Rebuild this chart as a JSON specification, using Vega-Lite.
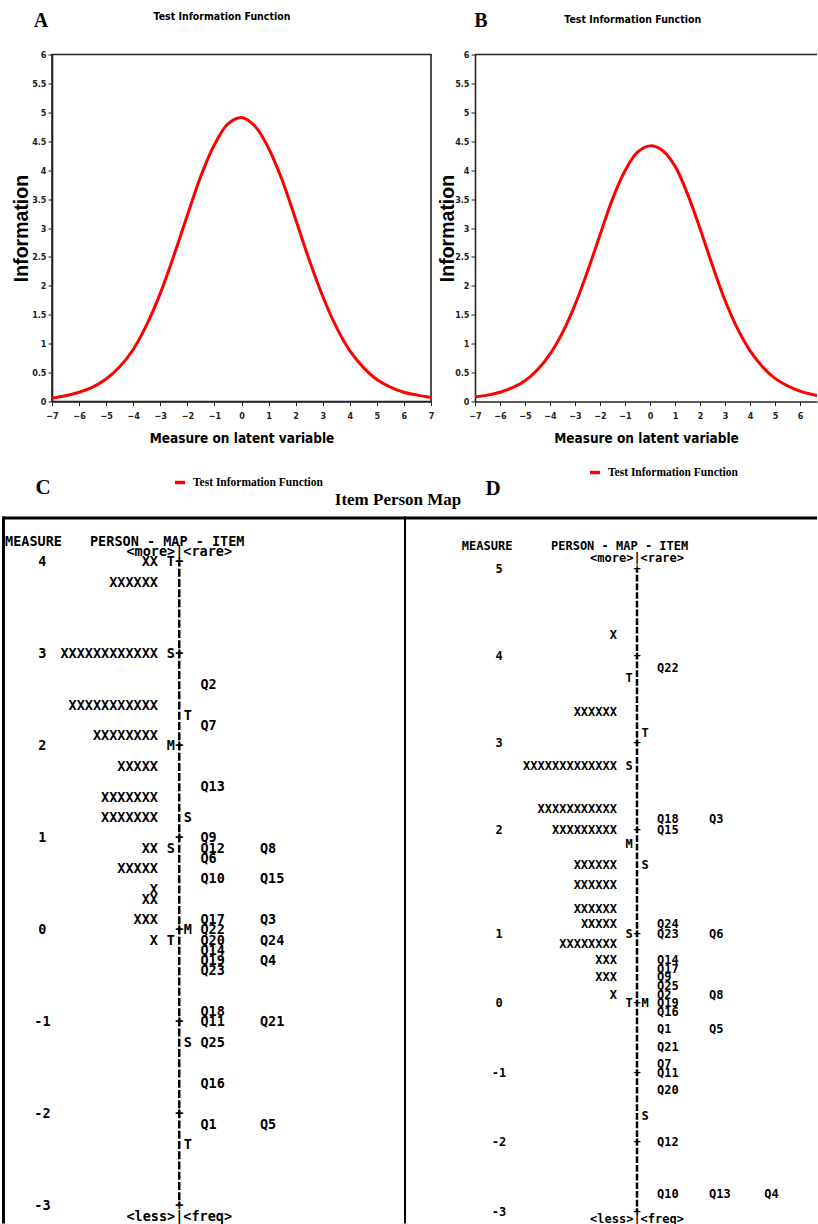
{
  "$schema": "https://vega.github.io/schema/vega-lite/v6.json",
  "background": "white",
  "padding": {"left": 1, "top": 9.5, "right": 0, "bottom": 0},
  "config": {
    "view": {"stroke": null},
    "axis": {"labelOverlap": false, "labelFlush": false, "labelBound": false, "grid": false,
      "labelFont": "Liberation Sans Narrow, DejaVu Sans Condensed, Liberation Sans, sans-serif", "labelFontSize": 9, "labelFontWeight": "bold", "labelColor": "#222",
      "tickSize": 4, "tickColor": "#222", "domainColor": "#222", "domainWidth": 1.6, "titleFontWeight": "bold", "titleColor": "#000"},
    "axisX": {"titleFont": "Liberation Sans Narrow, DejaVu Sans Condensed, Liberation Sans, sans-serif", "titleFontSize": 13.5, "titlePadding": 11, "labelPadding": 6},
    "axisY": {"titleFont": "Liberation Sans", "titleFontSize": 19.5, "labelPadding": 2}
  },
  "datasets": {
    "tifA": [
      {"theta": -7, "info": 0.06, "series": "Test Information Function"},
      {"theta": -6.5, "info": 0.10, "series": "Test Information Function"},
      {"theta": -6, "info": 0.16, "series": "Test Information Function"},
      {"theta": -5.5, "info": 0.25, "series": "Test Information Function"},
      {"theta": -5, "info": 0.39, "series": "Test Information Function"},
      {"theta": -4.5, "info": 0.60, "series": "Test Information Function"},
      {"theta": -4, "info": 0.90, "series": "Test Information Function"},
      {"theta": -3.5, "info": 1.33, "series": "Test Information Function"},
      {"theta": -3, "info": 1.87, "series": "Test Information Function"},
      {"theta": -2.5, "info": 2.52, "series": "Test Information Function"},
      {"theta": -2, "info": 3.22, "series": "Test Information Function"},
      {"theta": -1.5, "info": 3.90, "series": "Test Information Function"},
      {"theta": -1, "info": 4.44, "series": "Test Information Function"},
      {"theta": -0.5, "info": 4.80, "series": "Test Information Function"},
      {"theta": 0, "info": 4.91, "series": "Test Information Function"},
      {"theta": 0.5, "info": 4.76, "series": "Test Information Function"},
      {"theta": 1, "info": 4.38, "series": "Test Information Function"},
      {"theta": 1.5, "info": 3.83, "series": "Test Information Function"},
      {"theta": 2, "info": 3.15, "series": "Test Information Function"},
      {"theta": 2.5, "info": 2.45, "series": "Test Information Function"},
      {"theta": 3, "info": 1.82, "series": "Test Information Function"},
      {"theta": 3.5, "info": 1.29, "series": "Test Information Function"},
      {"theta": 4, "info": 0.88, "series": "Test Information Function"},
      {"theta": 4.5, "info": 0.59, "series": "Test Information Function"},
      {"theta": 5, "info": 0.38, "series": "Test Information Function"},
      {"theta": 5.5, "info": 0.25, "series": "Test Information Function"},
      {"theta": 6, "info": 0.16, "series": "Test Information Function"},
      {"theta": 6.5, "info": 0.11, "series": "Test Information Function"},
      {"theta": 7, "info": 0.07, "series": "Test Information Function"}
    ],
    "tifB": [
      {"theta": -7, "info": 0.08, "series": "Test Information Function"},
      {"theta": -6.5, "info": 0.11, "series": "Test Information Function"},
      {"theta": -6, "info": 0.16, "series": "Test Information Function"},
      {"theta": -5.5, "info": 0.24, "series": "Test Information Function"},
      {"theta": -5, "info": 0.36, "series": "Test Information Function"},
      {"theta": -4.5, "info": 0.55, "series": "Test Information Function"},
      {"theta": -4, "info": 0.82, "series": "Test Information Function"},
      {"theta": -3.5, "info": 1.19, "series": "Test Information Function"},
      {"theta": -3, "info": 1.67, "series": "Test Information Function"},
      {"theta": -2.5, "info": 2.25, "series": "Test Information Function"},
      {"theta": -2, "info": 2.88, "series": "Test Information Function"},
      {"theta": -1.5, "info": 3.50, "series": "Test Information Function"},
      {"theta": -1, "info": 3.99, "series": "Test Information Function"},
      {"theta": -0.5, "info": 4.31, "series": "Test Information Function"},
      {"theta": 0, "info": 4.42, "series": "Test Information Function"},
      {"theta": 0.5, "info": 4.34, "series": "Test Information Function"},
      {"theta": 1, "info": 4.07, "series": "Test Information Function"},
      {"theta": 1.5, "info": 3.59, "series": "Test Information Function"},
      {"theta": 2, "info": 2.99, "series": "Test Information Function"},
      {"theta": 2.5, "info": 2.35, "series": "Test Information Function"},
      {"theta": 3, "info": 1.75, "series": "Test Information Function"},
      {"theta": 3.5, "info": 1.26, "series": "Test Information Function"},
      {"theta": 4, "info": 0.88, "series": "Test Information Function"},
      {"theta": 4.5, "info": 0.60, "series": "Test Information Function"},
      {"theta": 5, "info": 0.40, "series": "Test Information Function"},
      {"theta": 5.5, "info": 0.27, "series": "Test Information Function"},
      {"theta": 6, "info": 0.18, "series": "Test Information Function"},
      {"theta": 6.5, "info": 0.12, "series": "Test Information Function"},
      {"theta": 7, "info": 0.08, "series": "Test Information Function"}
    ],
    "mapC": [
      {"line": -2, "col": 0, "text": "MEASURE", "kind": "hdr"},
      {"line": -2, "col": 10, "text": "PERSON - MAP - ITEM", "kind": "hdr"},
      {"line": -1, "col": 20.5, "text": "<more>|<rare>", "kind": "ends"},
      {"line": 0, "col": 4.4, "text": "4", "kind": "num"},
      {"line": 0, "col": 18, "text": "XX", "kind": "person"},
      {"line": 0, "col": 19.5, "text": "T", "kind": "mark"},
      {"line": 0, "col": 20.5, "text": "+", "kind": "axis"},
      {"line": 2, "col": 18, "text": "XXXXXX", "kind": "person"},
      {"line": 9, "col": 4.4, "text": "3", "kind": "num"},
      {"line": 9, "col": 18, "text": "XXXXXXXXXXXX", "kind": "person"},
      {"line": 9, "col": 19.5, "text": "S", "kind": "mark"},
      {"line": 9, "col": 20.5, "text": "+", "kind": "axis"},
      {"line": 12, "col": 23, "text": "Q2", "kind": "item"},
      {"line": 14, "col": 18, "text": "XXXXXXXXXXX", "kind": "person"},
      {"line": 15, "col": 21.5, "text": "T", "kind": "mark"},
      {"line": 16, "col": 23, "text": "Q7", "kind": "item"},
      {"line": 17, "col": 18, "text": "XXXXXXXX", "kind": "person"},
      {"line": 18, "col": 4.4, "text": "2", "kind": "num"},
      {"line": 18, "col": 19.5, "text": "M", "kind": "mark"},
      {"line": 18, "col": 20.5, "text": "+", "kind": "axis"},
      {"line": 20, "col": 18, "text": "XXXXX", "kind": "person"},
      {"line": 22, "col": 23, "text": "Q13", "kind": "item"},
      {"line": 23, "col": 18, "text": "XXXXXXX", "kind": "person"},
      {"line": 25, "col": 18, "text": "XXXXXXX", "kind": "person"},
      {"line": 25, "col": 21.5, "text": "S", "kind": "mark"},
      {"line": 27, "col": 4.4, "text": "1", "kind": "num"},
      {"line": 27, "col": 20.5, "text": "+", "kind": "axis"},
      {"line": 27, "col": 23, "text": "Q9", "kind": "item"},
      {"line": 28, "col": 18, "text": "XX", "kind": "person"},
      {"line": 28, "col": 19.5, "text": "S", "kind": "mark"},
      {"line": 28, "col": 23, "text": "Q12", "kind": "item"},
      {"line": 28, "col": 30, "text": "Q8", "kind": "item"},
      {"line": 29, "col": 23, "text": "Q6", "kind": "item"},
      {"line": 30, "col": 18, "text": "XXXXX", "kind": "person"},
      {"line": 31, "col": 23, "text": "Q10", "kind": "item"},
      {"line": 31, "col": 30, "text": "Q15", "kind": "item"},
      {"line": 32, "col": 18, "text": "X", "kind": "person"},
      {"line": 33, "col": 18, "text": "XX", "kind": "person"},
      {"line": 35, "col": 18, "text": "XXX", "kind": "person"},
      {"line": 35, "col": 23, "text": "Q17", "kind": "item"},
      {"line": 35, "col": 30, "text": "Q3", "kind": "item"},
      {"line": 36, "col": 4.4, "text": "0", "kind": "num"},
      {"line": 36, "col": 20.5, "text": "+", "kind": "axis"},
      {"line": 36, "col": 21.5, "text": "M", "kind": "mark"},
      {"line": 36, "col": 23, "text": "Q22", "kind": "item"},
      {"line": 37, "col": 18, "text": "X", "kind": "person"},
      {"line": 37, "col": 19.5, "text": "T", "kind": "mark"},
      {"line": 37, "col": 23, "text": "Q20", "kind": "item"},
      {"line": 37, "col": 30, "text": "Q24", "kind": "item"},
      {"line": 38, "col": 23, "text": "Q14", "kind": "item"},
      {"line": 39, "col": 23, "text": "Q19", "kind": "item"},
      {"line": 39, "col": 30, "text": "Q4", "kind": "item"},
      {"line": 40, "col": 23, "text": "Q23", "kind": "item"},
      {"line": 44, "col": 23, "text": "Q18", "kind": "item"},
      {"line": 45, "col": 4.4, "text": "-1", "kind": "num"},
      {"line": 45, "col": 20.5, "text": "+", "kind": "axis"},
      {"line": 45, "col": 23, "text": "Q11", "kind": "item"},
      {"line": 45, "col": 30, "text": "Q21", "kind": "item"},
      {"line": 47, "col": 21.5, "text": "S", "kind": "mark"},
      {"line": 47, "col": 23, "text": "Q25", "kind": "item"},
      {"line": 51, "col": 23, "text": "Q16", "kind": "item"},
      {"line": 54, "col": 4.4, "text": "-2", "kind": "num"},
      {"line": 54, "col": 20.5, "text": "+", "kind": "axis"},
      {"line": 55, "col": 23, "text": "Q1", "kind": "item"},
      {"line": 55, "col": 30, "text": "Q5", "kind": "item"},
      {"line": 57, "col": 21.5, "text": "T", "kind": "mark"},
      {"line": 63, "col": 4.4, "text": "-3", "kind": "num"},
      {"line": 63, "col": 20.5, "text": "+", "kind": "axis"},
      {"line": 64, "col": 20.5, "text": "<less>|<freq>", "kind": "ends"}
    ],
    "mapD": [
      {"line": -2.65, "col": -1.4, "text": "MEASURE", "kind": "hdr"},
      {"line": -2.65, "col": 9.75, "text": "PERSON - MAP - ITEM", "kind": "hdr"},
      {"line": -1.27, "col": 20.5, "text": "<more>|<rare>", "kind": "ends"},
      {"line": 0, "col": 3.25, "text": "5", "kind": "num"},
      {"line": 0, "col": 20.5, "text": "+", "kind": "axis"},
      {"line": 7.5, "col": 18, "text": "X", "kind": "person"},
      {"line": 10, "col": 3.25, "text": "4", "kind": "num"},
      {"line": 10, "col": 20.5, "text": "+", "kind": "axis"},
      {"line": 11.4, "col": 23, "text": "Q22", "kind": "item"},
      {"line": 12.5, "col": 19.5, "text": "T", "kind": "mark"},
      {"line": 16.4, "col": 18, "text": "XXXXXX", "kind": "person"},
      {"line": 18.8, "col": 21.5, "text": "T", "kind": "mark"},
      {"line": 20, "col": 3.25, "text": "3", "kind": "num"},
      {"line": 20, "col": 20.5, "text": "+", "kind": "axis"},
      {"line": 22.6, "col": 18, "text": "XXXXXXXXXXXXX", "kind": "person"},
      {"line": 22.6, "col": 19.5, "text": "S", "kind": "mark"},
      {"line": 27.6, "col": 18, "text": "XXXXXXXXXXX", "kind": "person"},
      {"line": 28.8, "col": 23, "text": "Q18", "kind": "item"},
      {"line": 28.8, "col": 29.5, "text": "Q3", "kind": "item"},
      {"line": 30, "col": 3.25, "text": "2", "kind": "num"},
      {"line": 30, "col": 18, "text": "XXXXXXXXX", "kind": "person"},
      {"line": 30, "col": 20.5, "text": "+", "kind": "axis"},
      {"line": 30, "col": 23, "text": "Q15", "kind": "item"},
      {"line": 31.6, "col": 19.5, "text": "M", "kind": "mark"},
      {"line": 34, "col": 18, "text": "XXXXXX", "kind": "person"},
      {"line": 34, "col": 21.5, "text": "S", "kind": "mark"},
      {"line": 36.4, "col": 18, "text": "XXXXXX", "kind": "person"},
      {"line": 39.1, "col": 18, "text": "XXXXXX", "kind": "person"},
      {"line": 40.9, "col": 18, "text": "XXXXX", "kind": "person"},
      {"line": 40.9, "col": 23, "text": "Q24", "kind": "item"},
      {"line": 42, "col": 3.25, "text": "1", "kind": "num"},
      {"line": 42, "col": 19.5, "text": "S", "kind": "mark"},
      {"line": 42, "col": 20.5, "text": "+", "kind": "axis"},
      {"line": 42, "col": 23, "text": "Q23", "kind": "item"},
      {"line": 42, "col": 29.5, "text": "Q6", "kind": "item"},
      {"line": 43.1, "col": 18, "text": "XXXXXXXX", "kind": "person"},
      {"line": 45, "col": 18, "text": "XXX", "kind": "person"},
      {"line": 45, "col": 23, "text": "Q14", "kind": "item"},
      {"line": 46, "col": 23, "text": "Q17", "kind": "item"},
      {"line": 47, "col": 18, "text": "XXX", "kind": "person"},
      {"line": 47, "col": 23, "text": "Q9", "kind": "item"},
      {"line": 48, "col": 23, "text": "Q25", "kind": "item"},
      {"line": 49, "col": 18, "text": "X", "kind": "person"},
      {"line": 49, "col": 23, "text": "Q2", "kind": "item"},
      {"line": 49, "col": 29.5, "text": "Q8", "kind": "item"},
      {"line": 50, "col": 3.25, "text": "0", "kind": "num"},
      {"line": 50, "col": 19.5, "text": "T", "kind": "mark"},
      {"line": 50, "col": 20.5, "text": "+", "kind": "axis"},
      {"line": 50, "col": 21.5, "text": "M", "kind": "mark"},
      {"line": 50, "col": 23, "text": "Q19", "kind": "item"},
      {"line": 51, "col": 23, "text": "Q16", "kind": "item"},
      {"line": 53, "col": 23, "text": "Q1", "kind": "item"},
      {"line": 53, "col": 29.5, "text": "Q5", "kind": "item"},
      {"line": 55, "col": 23, "text": "Q21", "kind": "item"},
      {"line": 57, "col": 23, "text": "Q7", "kind": "item"},
      {"line": 58, "col": 3.25, "text": "-1", "kind": "num"},
      {"line": 58, "col": 20.5, "text": "+", "kind": "axis"},
      {"line": 58, "col": 23, "text": "Q11", "kind": "item"},
      {"line": 60, "col": 23, "text": "Q20", "kind": "item"},
      {"line": 63, "col": 21.5, "text": "S", "kind": "mark"},
      {"line": 66, "col": 3.25, "text": "-2", "kind": "num"},
      {"line": 66, "col": 20.5, "text": "+", "kind": "axis"},
      {"line": 66, "col": 23, "text": "Q12", "kind": "item"},
      {"line": 72, "col": 23, "text": "Q10", "kind": "item"},
      {"line": 72, "col": 29.5, "text": "Q13", "kind": "item"},
      {"line": 72, "col": 36.4, "text": "Q4", "kind": "item"},
      {"line": 74, "col": 3.25, "text": "-3", "kind": "num"},
      {"line": 74, "col": 20.5, "text": "+", "kind": "axis"},
      {"line": 74.85, "col": 20.5, "text": "<less>|<freq>", "kind": "ends"}
    ]
  },
  "vconcat": [
    {
      "hconcat": [
        {
          "width": 5, "height": 347,
          "data": {"values": [{"t": ""}]},
          "mark": {"type": "text"},
          "encoding": {"text": {"field": "t"}}
        },
        {
          "width": 379, "height": 347,
          "view": {"stroke": "#222", "strokeWidth": 1.6},
          "layer": [
            {
              "data": {"name": "tifA"},
              "mark": {"type": "line", "strokeWidth": 3, "interpolate": "catmull-rom"},
              "encoding": {
                "x": {"field": "theta", "type": "quantitative", "scale": {"domain": [-7, 7], "nice": false, "zero": false},
                  "axis": {"values": [-7, -6, -5, -4, -3, -2, -1, 0, 1, 2, 3, 4, 5, 6, 7], "title": "Measure on latent variable", "labelOverlap": false}},
                "y": {"field": "info", "type": "quantitative", "scale": {"domain": [0, 6], "nice": false},
                  "axis": {"values": [0, 0.5, 1, 1.5, 2, 2.5, 3, 3.5, 4, 4.5, 5, 5.5, 6], "format": "~g", "title": "Information", "titlePadding": 0.5, "labelOverlap": false}},
                "color": {"field": "series", "type": "nominal", "scale": {"range": ["#ff0000"]},
                  "legend": {"orient": "none", "legendX": 121, "legendY": 421, "direction": "horizontal", "title": null, "symbolType": "stroke", "symbolStrokeWidth": 3.5, "symbolSize": 100, "labelFont": "Liberation Serif", "labelFontSize": 11.5, "labelFontWeight": "bold", "labelColor": "#000", "labelOffset": 6, "padding": 0}}
              }
            },
            {
              "data": {"values": [{"label": "A"}]},
              "mark": {"type": "text", "font": "Liberation Serif", "fontSize": 20, "fontWeight": "bold", "align": "center", "baseline": "middle", "color": "#000"},
              "encoding": {
                "x": {"datum": -7.41, "type": "quantitative", "scale": {"domain": [-7, 7], "nice": false, "zero": false},
                  "axis": {"values": [-7, -6, -5, -4, -3, -2, -1, 0, 1, 2, 3, 4, 5, 6, 7], "title": "Measure on latent variable", "labelOverlap": false}},
                "y": {"datum": 6.58, "type": "quantitative", "scale": {"domain": [0, 6], "nice": false},
                  "axis": {"values": [0, 0.5, 1, 1.5, 2, 2.5, 3, 3.5, 4, 4.5, 5, 5.5, 6], "format": "~g", "title": "Information", "titlePadding": 0.5, "labelOverlap": false}},
                "text": {"field": "label"}
              }
            },
            {
              "data": {"values": [{"label": "Test Information Function"}]},
              "mark": {"type": "text", "font": "Liberation Sans Narrow, DejaVu Sans Condensed, Liberation Sans, sans-serif", "fontSize": 10.5, "fontWeight": "bold", "align": "center", "baseline": "middle", "color": "#000"},
              "encoding": {
                "x": {"datum": -0.72, "type": "quantitative", "scale": {"domain": [-7, 7], "nice": false, "zero": false},
                  "axis": {"values": [-7, -6, -5, -4, -3, -2, -1, 0, 1, 2, 3, 4, 5, 6, 7], "title": "Measure on latent variable", "labelOverlap": false}},
                "y": {"datum": 6.64, "type": "quantitative", "scale": {"domain": [0, 6], "nice": false},
                  "axis": {"values": [0, 0.5, 1, 1.5, 2, 2.5, 3, 3.5, 4, 4.5, 5, 5.5, 6], "format": "~g", "title": "Information", "titlePadding": 0.5, "labelOverlap": false}},
                "text": {"field": "label"}
              }
            }
          ]
        },
        {
          "width": 342, "height": 347,
          "layer": [
            {
              "data": {"values": [{}]},
              "mark": {"type": "rule", "strokeWidth": 1.6, "color": "#222"},
              "encoding": {"y": {"datum": 6, "type": "quantitative", "scale": {"domain": [0, 6], "nice": false},
                  "axis": {"values": [0, 0.5, 1, 1.5, 2, 2.5, 3, 3.5, 4, 4.5, 5, 5.5, 6], "format": "~g", "title": "Information", "titlePadding": -3, "labelOverlap": false}}}
            },
            {
              "data": {"name": "tifB"},
              "mark": {"type": "line", "strokeWidth": 3, "interpolate": "catmull-rom", "clip": true},
              "encoding": {
                "x": {"field": "theta", "type": "quantitative", "scale": {"domain": [-7, 6.68], "nice": false, "zero": false},
                  "axis": {"values": [-7, -6, -5, -4, -3, -2, -1, 0, 1, 2, 3, 4, 5, 6], "title": "Measure on latent variable", "labelOverlap": false}},
                "y": {"field": "info", "type": "quantitative", "scale": {"domain": [0, 6], "nice": false},
                  "axis": {"values": [0, 0.5, 1, 1.5, 2, 2.5, 3, 3.5, 4, 4.5, 5, 5.5, 6], "format": "~g", "title": "Information", "titlePadding": -3, "labelOverlap": false}},
                "color": {"field": "series", "type": "nominal", "scale": {"range": ["#ff0000"]},
                  "legend": {"orient": "none", "legendX": 113, "legendY": 411, "direction": "horizontal", "title": null, "symbolType": "stroke", "symbolStrokeWidth": 3.5, "symbolSize": 100, "labelFont": "Liberation Serif", "labelFontSize": 11.5, "labelFontWeight": "bold", "labelColor": "#000", "labelOffset": 6, "padding": 0}}
              }
            },
            {
              "data": {"values": [{"label": "B"}]},
              "mark": {"type": "text", "font": "Liberation Serif", "fontSize": 20, "fontWeight": "bold", "align": "center", "baseline": "middle", "color": "#000"},
              "encoding": {
                "x": {"datum": -6.76, "type": "quantitative", "scale": {"domain": [-7, 6.68], "nice": false, "zero": false},
                  "axis": {"values": [-7, -6, -5, -4, -3, -2, -1, 0, 1, 2, 3, 4, 5, 6], "title": "Measure on latent variable", "labelOverlap": false}},
                "y": {"datum": 6.58, "type": "quantitative", "scale": {"domain": [0, 6], "nice": false},
                  "axis": {"values": [0, 0.5, 1, 1.5, 2, 2.5, 3, 3.5, 4, 4.5, 5, 5.5, 6], "format": "~g", "title": "Information", "titlePadding": -3, "labelOverlap": false}},
                "text": {"field": "label"}
              }
            },
            {
              "data": {"values": [{"label": "Test Information Function"}]},
              "mark": {"type": "text", "font": "Liberation Sans Narrow, DejaVu Sans Condensed, Liberation Sans, sans-serif", "fontSize": 10.5, "fontWeight": "bold", "align": "center", "baseline": "middle", "color": "#000"},
              "encoding": {
                "x": {"datum": -0.69, "type": "quantitative", "scale": {"domain": [-7, 6.68], "nice": false, "zero": false},
                  "axis": {"values": [-7, -6, -5, -4, -3, -2, -1, 0, 1, 2, 3, 4, 5, 6], "title": "Measure on latent variable", "labelOverlap": false}},
                "y": {"datum": 6.6, "type": "quantitative", "scale": {"domain": [0, 6], "nice": false},
                  "axis": {"values": [0, 0.5, 1, 1.5, 2, 2.5, 3, 3.5, 4, 4.5, 5, 5.5, 6], "format": "~g", "title": "Information", "titlePadding": -3, "labelOverlap": false}},
                "text": {"field": "label"}
              }
            }
          ]
        }
      ],
      "spacing": 44,
      "bounds": "flush",
      "resolve": {"scale": {"color": "independent"}, "legend": {"color": "independent"}}
    },
    {
      "hconcat": [
        {
          "width": 402, "height": 707,
          "layer": [
            {
              "data": {"values": [{}]},
              "mark": {"type": "rule", "strokeWidth": 3, "color": "#000"},
              "encoding": {"y": {"datum": -4.35, "type": "quantitative", "scale": {"domain": [-4.5, 64.68], "reverse": true, "nice": false, "zero": false}, "axis": null}}
            },
            {
              "data": {"values": [{}]},
              "mark": {"type": "rule", "strokeWidth": 3, "color": "#000"},
              "encoding": {"x": {"datum": -0.176, "type": "quantitative", "scale": {"domain": [-0.235, 47.06], "nice": false, "zero": false}, "axis": null}}
            },
            {
              "data": {"values": [{}]},
              "mark": {"type": "rule", "strokeWidth": 2.5, "color": "#000", "strokeDash": [8, 2.22], "strokeDashOffset": 4},
              "encoding": {
                "x": {"datum": 20.5, "type": "quantitative", "scale": {"domain": [-0.235, 47.06], "nice": false, "zero": false}, "axis": null},
                "y": {"datum": 0, "type": "quantitative", "scale": {"domain": [-4.5, 64.68], "reverse": true, "nice": false, "zero": false}, "axis": null},
                "y2": {"datum": 63}
              }
            },
            {
              "data": {"name": "mapC"},
              "transform": [{"filter": "datum.kind == 'hdr' || datum.kind == 'item'"}],
              "mark": {"type": "text", "align": "left", "baseline": "middle", "font": "DejaVu Sans Mono", "fontWeight": "bold", "fontSize": 13.5, "color": "#000"},
              "encoding": {
                "x": {"field": "col", "type": "quantitative", "scale": {"domain": [-0.235, 47.06], "nice": false, "zero": false}, "axis": null},
                "y": {"field": "line", "type": "quantitative", "scale": {"domain": [-4.5, 64.68], "reverse": true, "nice": false, "zero": false}, "axis": null},
                "text": {"field": "text"}
              }
            },
            {
              "data": {"name": "mapC"},
              "transform": [{"filter": "datum.kind == 'num' || datum.kind == 'mark' || datum.kind == 'axis' || datum.kind == 'ends'"}],
              "mark": {"type": "text", "align": "center", "baseline": "middle", "font": "DejaVu Sans Mono", "fontWeight": "bold", "fontSize": 13.5, "color": "#000"},
              "encoding": {
                "x": {"field": "col", "type": "quantitative", "scale": {"domain": [-0.235, 47.06], "nice": false, "zero": false}, "axis": null},
                "y": {"field": "line", "type": "quantitative", "scale": {"domain": [-4.5, 64.68], "reverse": true, "nice": false, "zero": false}, "axis": null},
                "text": {"field": "text"}
              }
            },
            {
              "data": {"name": "mapC"},
              "transform": [{"filter": "datum.kind == 'person'"}],
              "mark": {"type": "text", "align": "right", "baseline": "middle", "font": "DejaVu Sans Mono", "fontWeight": "bold", "fontSize": 13.5, "color": "#000"},
              "encoding": {
                "x": {"field": "col", "type": "quantitative", "scale": {"domain": [-0.235, 47.06], "nice": false, "zero": false}, "axis": null},
                "y": {"field": "line", "type": "quantitative", "scale": {"domain": [-4.5, 64.68], "reverse": true, "nice": false, "zero": false}, "axis": null},
                "text": {"field": "text"}
              }
            },
            {
              "data": {"values": [{"label": "C"}]},
              "mark": {"type": "text", "align": "center", "baseline": "middle", "font": "Liberation Serif", "fontWeight": "bold", "fontSize": 21, "color": "#000"},
              "encoding": {
                "x": {"datum": 4.47, "type": "quantitative", "scale": {"domain": [-0.235, 47.06], "nice": false, "zero": false}, "axis": null},
                "y": {"datum": -7.24, "type": "quantitative", "scale": {"domain": [-4.5, 64.68], "reverse": true, "nice": false, "zero": false}, "axis": null},
                "text": {"field": "label"}
              }
            },
            {
              "data": {"values": [{"label": "Item Person Map"}]},
              "mark": {"type": "text", "align": "center", "baseline": "middle", "font": "Liberation Serif", "fontWeight": "bold", "fontSize": 17, "color": "#000"},
              "encoding": {
                "x": {"datum": 46.24, "type": "quantitative", "scale": {"domain": [-0.235, 47.06], "nice": false, "zero": false}, "axis": null},
                "y": {"datum": -6.07, "type": "quantitative", "scale": {"domain": [-4.5, 64.68], "reverse": true, "nice": false, "zero": false}, "axis": null},
                "text": {"field": "label"}
              }
            }
          ]
        },
        {
          "width": 412, "height": 707,
          "layer": [
            {
              "data": {"values": [{}]},
              "mark": {"type": "rule", "strokeWidth": 3, "color": "#000"},
              "encoding": {"y": {"datum": -5.92, "type": "quantitative", "scale": {"domain": [-6.1, 75.35], "reverse": true, "nice": false, "zero": false}, "axis": null}}
            },
            {
              "data": {"values": [{}]},
              "mark": {"type": "rule", "strokeWidth": 2, "color": "#000"},
              "encoding": {"x": {"datum": -8.5, "type": "quantitative", "scale": {"domain": [-8.5, 43], "nice": false, "zero": false}, "axis": null}}
            },
            {
              "data": {"values": [{}]},
              "mark": {"type": "rule", "strokeWidth": 2.5, "color": "#000", "strokeDash": [6.7, 1.98], "strokeDashOffset": 3.35},
              "encoding": {
                "x": {"datum": 20.5, "type": "quantitative", "scale": {"domain": [-8.5, 43], "nice": false, "zero": false}, "axis": null},
                "y": {"datum": 0, "type": "quantitative", "scale": {"domain": [-6.1, 75.35], "reverse": true, "nice": false, "zero": false}, "axis": null},
                "y2": {"datum": 74}
              }
            },
            {
              "data": {"name": "mapD"},
              "transform": [{"filter": "datum.kind == 'hdr' || datum.kind == 'item'"}],
              "mark": {"type": "text", "align": "left", "baseline": "middle", "font": "DejaVu Sans Mono", "fontWeight": "bold", "fontSize": 12, "color": "#000"},
              "encoding": {
                "x": {"field": "col", "type": "quantitative", "scale": {"domain": [-8.5, 43], "nice": false, "zero": false}, "axis": null},
                "y": {"field": "line", "type": "quantitative", "scale": {"domain": [-6.1, 75.35], "reverse": true, "nice": false, "zero": false}, "axis": null},
                "text": {"field": "text"}
              }
            },
            {
              "data": {"name": "mapD"},
              "transform": [{"filter": "datum.kind == 'num' || datum.kind == 'mark' || datum.kind == 'axis' || datum.kind == 'ends'"}],
              "mark": {"type": "text", "align": "center", "baseline": "middle", "font": "DejaVu Sans Mono", "fontWeight": "bold", "fontSize": 12, "color": "#000"},
              "encoding": {
                "x": {"field": "col", "type": "quantitative", "scale": {"domain": [-8.5, 43], "nice": false, "zero": false}, "axis": null},
                "y": {"field": "line", "type": "quantitative", "scale": {"domain": [-6.1, 75.35], "reverse": true, "nice": false, "zero": false}, "axis": null},
                "text": {"field": "text"}
              }
            },
            {
              "data": {"name": "mapD"},
              "transform": [{"filter": "datum.kind == 'person'"}],
              "mark": {"type": "text", "align": "right", "baseline": "middle", "font": "DejaVu Sans Mono", "fontWeight": "bold", "fontSize": 12, "color": "#000"},
              "encoding": {
                "x": {"field": "col", "type": "quantitative", "scale": {"domain": [-8.5, 43], "nice": false, "zero": false}, "axis": null},
                "y": {"field": "line", "type": "quantitative", "scale": {"domain": [-6.1, 75.35], "reverse": true, "nice": false, "zero": false}, "axis": null},
                "text": {"field": "text"}
              }
            },
            {
              "data": {"values": [{"label": "D"}]},
              "mark": {"type": "text", "align": "center", "baseline": "middle", "font": "Liberation Serif", "fontWeight": "bold", "fontSize": 21, "color": "#000"},
              "encoding": {
                "x": {"datum": 2.5, "type": "quantitative", "scale": {"domain": [-8.5, 43], "nice": false, "zero": false}, "axis": null},
                "y": {"datum": -9.22, "type": "quantitative", "scale": {"domain": [-6.1, 75.35], "reverse": true, "nice": false, "zero": false}, "axis": null},
                "text": {"field": "label"}
              }
            }
          ]
        }
      ],
      "spacing": 0,
      "bounds": "flush"
    }
  ],
  "spacing": 462,
  "bounds": "flush"
}
